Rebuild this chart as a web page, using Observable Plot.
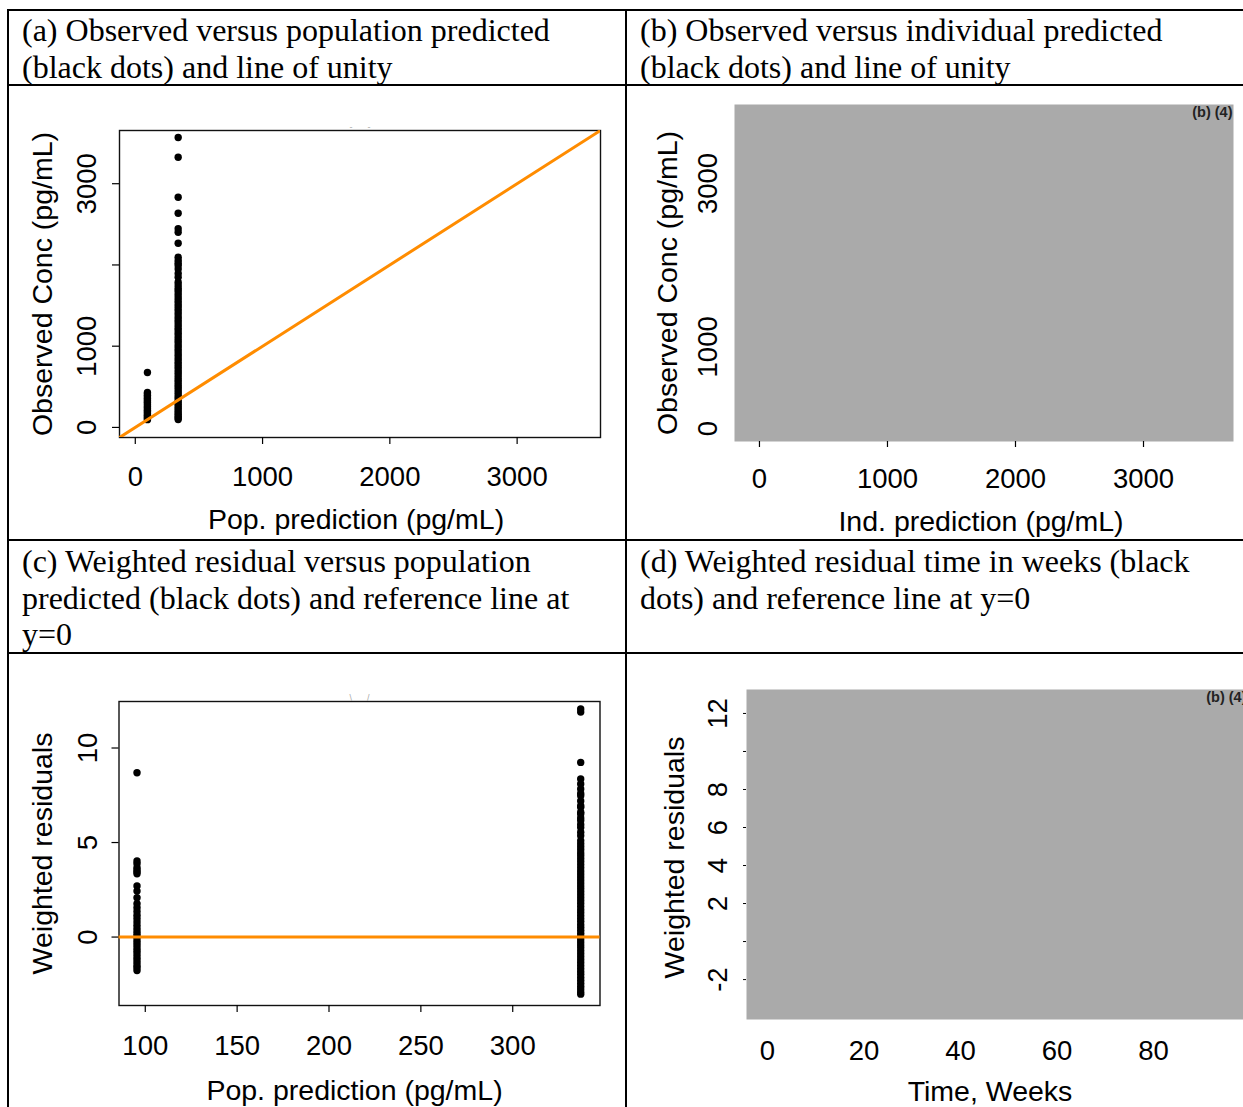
<!DOCTYPE html>
<html><head><meta charset="utf-8">
<script src="https://cdn.jsdelivr.net/npm/d3@7"></script>
<script src="https://cdn.jsdelivr.net/npm/@observablehq/plot@0.6"></script>
<style>
html,body{margin:0;padding:0;background:#fff;overflow:hidden;width:1243px;height:1107px;}
#page{position:relative;width:1243px;height:1107px;overflow:hidden;background:#fff;}
.hl{position:absolute;height:2px;background:#000;}
.vl{position:absolute;width:2px;background:#000;}
.hd{position:absolute;font-family:"Liberation Serif","Times New Roman",serif;font-size:32px;line-height:36.5px;color:#000;white-space:nowrap;}
.pl{position:absolute;}
.pl svg{max-width:none;display:block;}
</style></head><body><div id="page">
<div class="hl" style="left:7px;top:9px;width:1236px"></div>
<div class="hl" style="left:7px;top:84px;width:1236px"></div>
<div class="hl" style="left:7px;top:539px;width:1236px"></div>
<div class="hl" style="left:7px;top:652px;width:1236px"></div>
<div class="vl" style="left:7px;top:9px;height:1098px"></div>
<div class="vl" style="left:625px;top:9px;height:1098px"></div>
<div class="hd" id="hA" style="left:22px;top:12px"></div>
<div class="hd" id="hB" style="left:640px;top:12px"></div>
<div class="hd" id="hC" style="left:22px;top:543px"></div>
<div class="hd" id="hD" style="left:640px;top:543px"></div>
<div class="pl" id="pA" style="left:10px;top:87px"></div>
<div class="pl" id="pB" style="left:628px;top:87px"></div>
<div class="pl" id="pC" style="left:10px;top:655px"></div>
<div class="pl" id="pD" style="left:628px;top:655px"></div>
</div>
<script>
// ---- texts ----
const headerA = ["(a) Observed versus population predicted", "(black dots) and line of unity"];
const headerB = ["(b) Observed versus individual predicted", "(black dots) and line of unity"];
const headerC = ["(c) Weighted residual versus population", "predicted (black dots) and reference line at", "y=0"];
const headerD = ["(d) Weighted residual time in weeks (black", "dots) and reference line at y=0"];
const xTitleA = "Pop. prediction (pg/mL)";
const yTitleA = "Observed Conc (pg/mL)";
const xTitleB = "Ind. prediction (pg/mL)";
const yTitleB = "Observed Conc (pg/mL)";
const xTitleC = "Pop. prediction (pg/mL)";
const yTitleC = "Weighted residuals";
const xTitleD = "Time, Weeks";
const yTitleD = "Weighted residuals";
const tagText = "(b) (4)";

// ---- data ----
const popPredLow = 95.5;
const popPredHigh = 337;
const obsLow = [676, 430, 415, 395, 378, 360, 342, 325, 310, 292, 275, 258, 242, 226, 210, 195, 180, 165, 150, 136, 122, 108, 96];
const obsHigh = [3569, 3325, 2833, 2636, 2447, 2402, 2267, 2095, 2054, 2020, 1993, 1950, 1894, 1849,
  1787, 1752, 1716, 1690, 1655, 1620, 1588, 1553, 1520, 1490, 1455, 1420, 1388, 1352, 1320, 1287, 1255,
  1221, 1190, 1158, 1125, 1092, 1060, 1028, 995, 963, 930, 898, 866, 835, 803, 772, 740, 708, 676, 645,
  613, 582, 551, 520, 490, 460, 430, 400, 370, 342, 313, 285, 258, 232, 206, 182, 158, 136, 116, 98];
const wresLow = [8.69, 4.02, 3.88, 3.67, 3.55, 3.45, 3.35, 2.7, 2.43, 2.08, 1.76, 1.55, 1.35, 1.15, 0.98, 0.8,
  0.62, 0.45, 0.3, 0.15, 0.0, -0.15, -0.3, -0.45, -0.6, -0.75, -0.9, -1.05, -1.2, -1.35, -1.5, -1.62, -1.77];
const wresHigh = [12.06, 11.9, 9.24, 8.36, 8.1, 7.83, 7.6, 7.48, 7.2, 6.95, 6.86, 6.6, 6.51, 6.3, 6.16, 5.95,
  5.8, 5.55, 5.36, 5.1, 4.93, 4.78, 4.62, 4.45, 4.3, 4.14, 3.98, 3.82, 3.66, 3.5, 3.34, 3.18, 3.02, 2.86,
  2.7, 2.55, 2.4, 2.24, 2.08, 1.92, 1.77, 1.61, 1.45, 1.3, 1.14, 0.98, 0.83, 0.67, 0.52, 0.36, 0.2, 0.05,
  -0.1, -0.26, -0.42, -0.57, -0.73, -0.88, -1.04, -1.2, -1.35, -1.5, -1.66, -1.82, -1.97, -2.13, -2.28,
  -2.44, -2.6, -2.75, -2.9, -3.02];

// ---- ticks ----
const xTicksA = [0, 1000, 2000, 3000];
const yTicksA = [0, 1000, 2000, 3000];
const yLabelsA = [0, 1000, 3000];
const xTicksB = [0, 1000, 2000, 3000];
const yLabelsB = [0, 1000, 3000];
const xTicksC = [100, 150, 200, 250, 300];
const yTicksC = [0, 5, 10];
const xTicksD = [0, 20, 40, 60, 80];
const yTicksD = [-2, 0, 2, 4, 6, 8, 10, 12];
const yLabelsD = [-2, 2, 4, 6, 8, 12];

// ---- scale domains ----
const domA = [-124, 3655];
const domBx = [-195, 3703], domBy = [-159, 3967];
const domCx = [85.7, 347.5], domCy = [-3.62, 12.46];
const domDx = [-4.35, 98.65], domDy = [-4.1, 13.26];

const FS = 27.5;   // tick labels
const FT = 28.5;   // axis titles
const ORANGE = "#ff8c00";
const GRAY = "#aaaaaa";
const style = {fontFamily: "'Liberation Sans', Arial, sans-serif", fontSize: FS + "px", background: "transparent", overflow: "visible", color: "#000"};

function header(id, lines) { document.getElementById(id).innerHTML = lines.join("<br>"); }
header("hA", headerA); header("hB", headerB); header("hC", headerC); header("hD", headerD);

const rowsA = [...obsLow.map(y => ({x: popPredLow, y})), ...obsHigh.map(y => ({x: popPredHigh, y}))];
const rowsC = [...wresLow.map(y => ({x: popPredLow, y})), ...wresHigh.map(y => ({x: popPredHigh, y}))];

function txt(data, opts) { return Plot.text(data, {text: d => String(d), fontSize: FS, fill: "#000", lineAnchor: "middle", textAnchor: "middle", ...opts}); }

// Panel (a)
const plotA = Plot.plot({
  width: 614, height: 451, marginLeft: 109, marginRight: 24, marginTop: 43, marginBottom: 101,
  x: {domain: domA}, y: {domain: domA}, style,
  marks: [
    Plot.frame({stroke: "#111", strokeWidth: 1.4}),
    Plot.axisX(xTicksA, {tickSize: 7, tickFormat: () => "", label: null, strokeWidth: 1.2}),
    Plot.axisY(yTicksA, {tickSize: 7, tickFormat: () => "", label: null, strokeWidth: 1.2}),
    txt(xTicksA, {x: d => d, frameAnchor: "bottom", dy: 40}),
    txt(yLabelsA, {y: d => d, frameAnchor: "left", dx: -32, rotate: -90}),
    txt([xTitleA], {frameAnchor: "bottom", dy: 82, dx: -4, fontSize: FT}),
    txt([yTitleA], {frameAnchor: "left", dx: -77, rotate: -90, fontSize: FT}),
    Plot.text(["-      -"], {text: d => d, frameAnchor: "top", dy: -7, fontSize: 9, fill: "#aaa"}),
    Plot.dot(rowsA, {x: "x", y: "y", r: 3.7, fill: "#000", stroke: null}),
    Plot.line(domA, {x: d => d, y: d => d, stroke: ORANGE, strokeWidth: 3, clip: true})
  ]
});
document.getElementById("pA").append(plotA);

// Panel (b)
const plotB = Plot.plot({
  width: 615, height: 451, marginLeft: 106, marginRight: 10, marginTop: 17, marginBottom: 97,
  x: {domain: domBx}, y: {domain: domBy, axis: null}, style,
  marks: [
    Plot.frame({fill: GRAY, stroke: null}),
    Plot.axisX(xTicksB, {tickSize: 6, tickFormat: () => "", label: null, strokeWidth: 1.2}),
    txt(xTicksB, {x: d => d, frameAnchor: "bottom", dy: 38}),
    txt(yLabelsB, {y: d => d, frameAnchor: "left", dx: -26, rotate: -90}),
    txt([xTitleB], {frameAnchor: "bottom", dy: 80, dx: -3, fontSize: FT}),
    txt([yTitleB], {frameAnchor: "left", dx: -67, dy: 10, rotate: -90, fontSize: FT}),
    Plot.text([tagText], {text: d => d, frameAnchor: "top-right", dx: -1, dy: 8, textAnchor: "end", lineAnchor: "middle", fontSize: 14.5, fontWeight: "bold", fill: "#222"})
  ]
});
document.getElementById("pB").append(plotB);

// Panel (c)
const plotC = Plot.plot({
  width: 614, height: 452, marginLeft: 108.5, marginRight: 24.5, marginTop: 46, marginBottom: 102,
  x: {domain: domCx}, y: {domain: domCy}, style,
  marks: [
    Plot.frame({stroke: "#111", strokeWidth: 1.4}),
    Plot.axisX(xTicksC, {tickSize: 7, tickFormat: () => "", label: null, strokeWidth: 1.2}),
    Plot.axisY(yTicksC, {tickSize: 7, tickFormat: () => "", label: null, strokeWidth: 1.2}),
    txt(xTicksC, {x: d => d, frameAnchor: "bottom", dy: 41}),
    txt(yTicksC, {y: d => d, frameAnchor: "left", dx: -31, rotate: -90}),
    txt([xTitleC], {frameAnchor: "bottom", dy: 85, dx: -5, fontSize: FT}),
    txt([yTitleC], {frameAnchor: "left", dx: -76, rotate: -90, fontSize: FT}),
    Plot.text(["\\      /"], {text: d => d, frameAnchor: "top", dy: -7, fontSize: 9, fill: "#aaa"}),
    Plot.dot(rowsC, {x: "x", y: "y", r: 3.7, fill: "#000", stroke: null}),
    Plot.ruleY([0], {stroke: ORANGE, strokeWidth: 3})
  ]
});
document.getElementById("pC").append(plotC);

// Panel (d)
const plotD = Plot.plot({
  width: 615, height: 452, marginLeft: 118, marginRight: 0, marginTop: 34, marginBottom: 88,
  x: {domain: domDx, axis: null}, y: {domain: domDy}, style,
  marks: [
    Plot.frame({fill: GRAY, stroke: null}),
    Plot.axisY(yTicksD, {tickSize: 3, tickFormat: () => "", label: null, strokeWidth: 1}),
    txt(xTicksD, {x: d => d, frameAnchor: "bottom", dy: 32}),
    txt(yLabelsD, {y: d => d, frameAnchor: "left", dx: -28, rotate: -90}),
    txt([xTitleD], {frameAnchor: "bottom", dy: 72, dx: -5, fontSize: FT}),
    txt([yTitleD], {frameAnchor: "left", dx: -72, dy: 3, rotate: -90, fontSize: FT}),
    Plot.text([tagText], {text: d => d, frameAnchor: "top-right", dx: 3, dy: 8, textAnchor: "end", lineAnchor: "middle", fontSize: 14.5, fontWeight: "bold", fill: "#222"})
  ]
});
document.getElementById("pD").append(plotD);
</script>
</body></html>
